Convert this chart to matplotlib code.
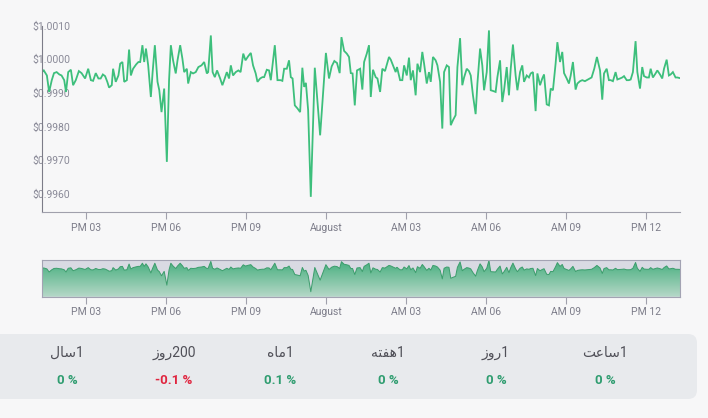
import numpy as np
import pandas as pd
import matplotlib
matplotlib.use("Agg")
import matplotlib.pyplot as plt
import matplotlib.dates as mdates
from matplotlib.colors import LinearSegmentedColormap
from matplotlib.patches import FancyBboxPatch

''' data read off the reference '''
start = pd.Timestamp("2023-07-31 13:20")

minutes = [0, 4, 11, 16, 22, 27, 33, 39, 44, 50, 54, 59, 65, 70, 76, 83, 89, 97, 104, 110,
           115, 121, 127, 132, 137, 142, 147, 151, 157, 160, 166, 172, 176, 181, 185, 191, 196, 200, 205, 212,
           217, 221, 226, 230, 234, 239, 245, 249, 254, 260, 264, 269, 275, 281, 286, 290, 295, 301, 305, 311,
           316, 320, 326, 329, 335, 340, 346, 352, 359, 365, 371, 374, 380, 384, 389, 394, 401, 406, 410, 416,
           421, 425, 430, 436, 442, 447, 453, 458, 464, 470, 475, 481, 485, 491, 496, 500, 506, 511, 515, 524,
           530, 537, 541, 545, 551, 556, 560, 564, 569, 575, 581, 586, 590, 594, 599, 605, 614, 626, 639, 646,
           652, 658, 664, 670, 674, 680, 686, 691, 695, 699, 704, 709, 716, 721, 725, 731, 736, 740, 745, 751,
           755, 761, 766, 772, 781, 785, 790, 796, 799, 806, 811, 815, 821, 826, 830, 835, 841, 845, 851, 856,
           860, 866, 871, 875, 880, 886, 890, 896, 901, 905, 911, 916, 920, 925, 931, 935, 941, 946, 950, 956,
           961, 965, 970, 976, 980, 986, 991, 995, 1001, 1006, 1010, 1015, 1021, 1025, 1031, 1036, 1040, 1046, 1051, 1055,
           1060, 1066, 1070, 1076, 1081, 1085, 1091, 1096, 1100, 1105, 1111, 1115, 1121, 1126, 1130, 1136, 1141, 1145, 1150, 1156,
           1160, 1166, 1171, 1175, 1181, 1186, 1190, 1195, 1201, 1205, 1211, 1216, 1222, 1229, 1237, 1243, 1249, 1256, 1261, 1265,
           1271, 1276, 1280, 1285, 1291, 1295, 1301, 1306, 1310, 1316, 1321, 1325, 1330, 1336, 1340, 1346, 1351, 1355, 1361, 1366,
           1370, 1375, 1381, 1385, 1391, 1396, 1400, 1406, 1411, 1415, 1420, 1426, 1430, 1436]

prices = [0.99962, 0.99967, 0.99952, 0.99903, 0.99938, 0.99959, 0.99962, 0.99955, 0.99952, 0.99938,
          0.99903, 0.99962, 0.99969, 0.99923, 0.99938, 0.99965, 0.99959, 0.99943, 0.99972, 0.99938,
          0.99936, 0.99959, 0.99943, 0.99943, 0.99955, 0.99950, 0.99933, 0.99916, 0.99923, 0.99972,
          0.99933, 0.99952, 0.99987, 0.99992, 0.99933, 0.99938, 1.00029, 0.99952, 0.99972, 0.99985,
          0.99992, 0.99992, 1.00042, 0.99992, 1.00032, 0.99982, 0.99888, 0.99962, 1.00042, 0.99933,
          0.99908, 0.99843, 0.99913, 0.99695, 0.99938, 1.00042, 0.99997, 0.99958, 0.99997, 1.00042,
          1.00002, 0.99962, 0.99972, 0.99928, 0.99962, 0.99958, 0.99962, 0.99977, 0.99982, 0.99992,
          0.99958, 0.99962, 1.00071, 0.99962, 0.99947, 0.99967, 0.99943, 0.99923, 0.99938, 0.99962,
          0.99943, 0.99982, 0.99952, 0.99962, 0.99967, 0.99962, 1.00017, 0.99997, 1.00009, 1.00019,
          0.99982, 0.99958, 0.99933, 0.99943, 0.99947, 0.99947, 0.99969, 0.99967, 0.99938, 1.00042,
          0.99938, 0.99938, 0.99936, 0.99972, 0.99972, 0.99997, 0.99947, 0.99943, 0.99863, 0.99854,
          0.99843, 0.99975, 0.99918, 0.99930, 0.99849, 0.99591, 0.99975, 0.99774, 1.00019, 0.99943,
          0.99979, 0.99995, 0.99989, 0.99959, 1.00066, 1.00025, 1.00017, 1.00007, 0.99959, 0.99958,
          0.99863, 0.99967, 0.99972, 0.99910, 0.99992, 1.00017, 1.00042, 0.99888, 0.99969, 0.99947,
          0.99943, 0.99903, 0.99972, 0.99965, 1.00007, 0.99999, 0.99982, 0.99962, 0.99977, 0.99938,
          0.99938, 0.99982, 0.99952, 1.00005, 0.99938, 0.99967, 0.99893, 0.99987, 0.99962, 1.00022,
          0.99987, 0.99928, 0.99962, 0.99933, 1.00007, 0.99997, 0.99982, 0.99933, 0.99794, 0.99962,
          0.99982, 0.99977, 0.99804, 0.99819, 0.99834, 0.99977, 1.00063, 0.99923, 0.99946, 0.99972,
          0.99965, 0.99952, 0.99893, 0.99837, 0.99928, 1.00032, 0.99982, 0.99908, 0.99962, 1.00086,
          0.99908, 0.99906, 0.99903, 0.99947, 0.99997, 0.99873, 0.99908, 0.99977, 0.99893, 0.99972,
          1.00044, 0.99952, 0.99908, 0.99962, 0.99982, 0.99933, 0.99952, 0.99946, 0.99958, 0.99962,
          0.99846, 0.99958, 0.99923, 0.99943, 0.99955, 0.99866, 0.99863, 0.99913, 0.99908, 0.99987,
          1.00051, 0.99992, 1.00022, 0.99959, 0.99943, 0.99928, 0.99952, 0.99992, 0.99910, 0.99928,
          0.99935, 0.99938, 0.99935, 0.99940, 0.99946, 0.99972, 1.00007, 0.99967, 0.99880, 0.99958,
          0.99972, 0.99938, 0.99938, 0.99935, 0.99962, 0.99940, 0.99943, 0.99946, 0.99950, 0.99938,
          0.99938, 0.99940, 0.99962, 1.00054, 0.99962, 0.99913, 0.99977, 0.99950, 0.99946, 0.99946,
          0.99972, 0.99946, 0.99958, 0.99967, 0.99955, 0.99943, 0.99972, 0.99999, 0.99952, 0.99955,
          0.99962, 0.99946, 0.99946, 0.99944]

y_ticks = [0.9960, 0.9970, 0.9980, 0.9990, 1.0000, 1.0010]
tick_times = pd.date_range("2023-07-31 15:00", periods=8, freq="3h")
tick_labels = ["PM 03", "PM 06", "PM 09", "August", "AM 03", "AM 06", "AM 09", "PM 12"]

period_words = ["ساعت", "روز", "هفته", "ماه", "روز", "سال"]
period_nums = ["1", "1", "1", "1", "200", "1"]
changes = [0, 0, 0, 0.1, -0.1, 0]

''' colours '''
bg = "#f7f7f8"
green = "#3dbf7c"
grey_txt = "#8a8a98"

# arabic presentation forms (iso, fin, ini, med) - matplotlib has no shaping
forms = {
    "س": ("\uFEB1", "\uFEB2", "\uFEB3", "\uFEB4"),
    "ا": ("\uFE8D", "\uFE8E", None, None),
    "ع": ("\uFEC9", "\uFECA", "\uFECB", "\uFECC"),
    "ت": ("\uFE95", "\uFE96", "\uFE97", "\uFE98"),
    "ر": ("\uFEAD", "\uFEAE", None, None),
    "و": ("\uFEED", "\uFEEE", None, None),
    "ز": ("\uFEAF", "\uFEB0", None, None),
    "ه": ("\uFEE9", "\uFEEA", "\uFEEB", "\uFEEC"),
    "ف": ("\uFED1", "\uFED2", "\uFED3", "\uFED4"),
    "م": ("\uFEE1", "\uFEE2", "\uFEE3", "\uFEE4"),
    "ل": ("\uFEDD", "\uFEDE", "\uFEDF", "\uFEE0"),
}

def shape(word):
    out = []
    for i, ch in enumerate(word):
        if ch not in forms:
            out.append(ch)
            continue
        prev = word[i - 1] if i > 0 else None
        nxt = word[i + 1] if i + 1 < len(word) else None
        jp = prev in forms and forms[prev][2] is not None
        jn = nxt in forms and forms[ch][2] is not None
        iso, fin, ini, med = forms[ch]
        if jp and jn:
            out.append(med)
        elif jp:
            out.append(fin)
        elif jn:
            out.append(ini)
        else:
            out.append(iso)
    return "".join(reversed(out))

plt.rcParams["font.family"] = ["Roboto", "DejaVu Sans"]

W, H = 708, 418
fig = plt.figure(figsize=(W / 100, H / 100), dpi=100, facecolor=bg)

x = mdates.date2num(start + pd.to_timedelta(minutes, unit="min"))
xt = mdates.date2num(tick_times)
xlim = (x[0], x[-1])

# background / table layer in pixel units
axb = fig.add_axes([0, 0, 1, 1])
axb.set_xlim(0, W)
axb.set_ylim(H, 0)
axb.axis("off")
panel = FancyBboxPatch((-20, 334), 717, 65, boxstyle="round,pad=0,rounding_size=9",
                       fc="#e8eaed", ec="none")
axb.add_patch(panel)

col_x = [605, 496, 388, 280, 174, 67]
for cx, w, n, c in zip(col_x, period_words, period_nums, changes):
    axb.text(cx, 353, shape(w) + n, ha="center", va="center", fontsize=10, color="#505058")
    col = "#e0253f" if c < 0 else "#2f9d70"
    axb.text(cx, 380, "%g %%" % c, ha="center", va="center", fontsize=9.5,
             fontweight="bold", color=col)

# main chart
ax = fig.add_axes([42 / W, 1 - 212.3 / H, 638 / W, 186.6 / H])
ax.set_facecolor(bg)
ax.plot(x, prices, color=green, lw=1.3, solid_joinstyle="miter")
ax.set_xlim(*xlim)
ax.set_ylim(0.99545, 1.0010)
for s in ["top", "right"]:
    ax.spines[s].set_visible(False)
ax.spines["left"].set_color("#7c7c88")
ax.spines["bottom"].set_color("#a0a0ac")
ax.set_yticks(y_ticks)
ax.set_yticklabels(["$%.4f" % v for v in y_ticks], ha="left")
ax.tick_params(axis="y", length=0, pad=7.2, labelsize=7.5, labelcolor=grey_txt)
ax.set_xticks(xt)
ax.set_xticklabels(tick_labels)
ax.tick_params(axis="x", length=5, color="#a0a0ac", pad=2.5, labelsize=7.5, labelcolor="#7d7d8a")

# navigator
ax2 = fig.add_axes([42 / W, 1 - 296.7 / H, 638 / W, 36.4 / H])
ax2.set_facecolor("#d9dae3")
ylo, yhi = 0.99512, 1.00088
poly = ax2.fill_between(x, prices, ylo, color="none", lw=0)
cmap = LinearSegmentedColormap.from_list("nav", ["#b6d8c8", "#45ae7d"])
grad = np.linspace(0, 1, 256).reshape(-1, 1)
img = ax2.imshow(grad, extent=[xlim[0], xlim[1], ylo, yhi], origin="lower",
                 aspect="auto", cmap=cmap, zorder=1)
img.set_clip_path(poly.get_paths()[0], transform=ax2.transData)
ax2.plot(x, prices, color="#3c9d6c", lw=0.7, zorder=2)
ax2.set_xlim(*xlim)
ax2.set_ylim(ylo, yhi)
ax2.set_yticks([])
for s in ax2.spines.values():
    s.set_color("#a3a3b3")
ax2.set_xticks(xt)
ax2.set_xticklabels(tick_labels)
ax2.tick_params(axis="x", length=5, color="#a0a0ac", pad=2.5, labelsize=7.5, labelcolor="#7d7d8a")

fig.savefig("out.png", dpi=100, facecolor=bg)
